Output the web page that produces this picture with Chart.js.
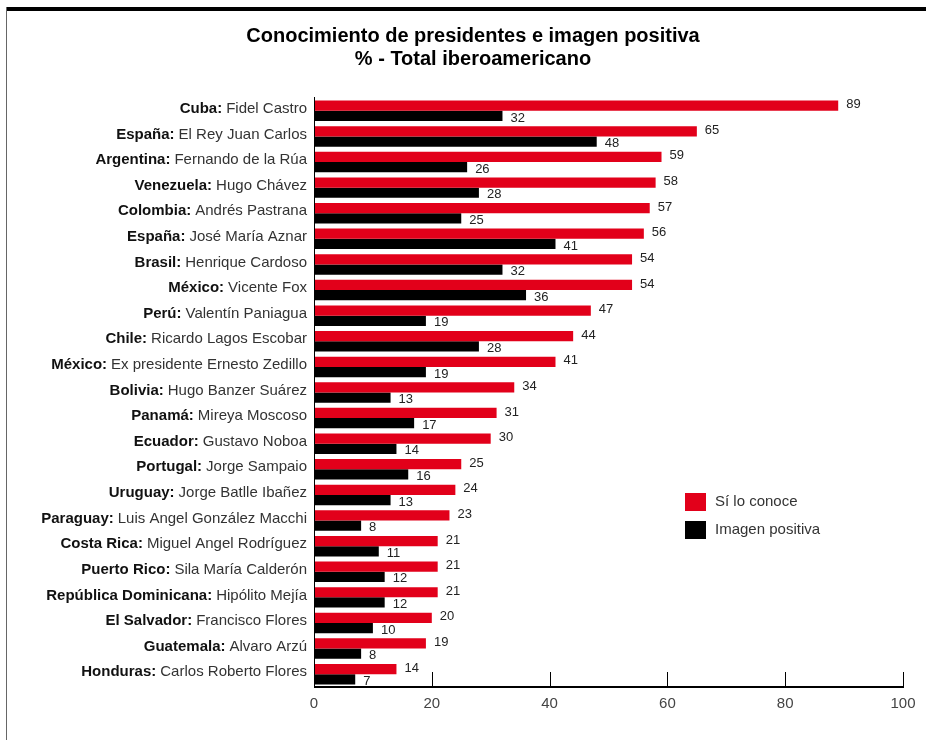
<!DOCTYPE html>
<html>
<head>
<meta charset="utf-8">
<script src="https://cdn.jsdelivr.net/npm/chart.js@4/dist/chart.umd.min.js"></script>
<style>
  html, body { margin: 0; padding: 0; background: #fff; }
  #wrap { position: relative; width: 926px; height: 740px; }
  #frameTop { position: absolute; left: 6px; top: 7px; width: 920px; height: 4px; background: #000; }
  #frameLeft { position: absolute; left: 6px; top: 7px; width: 1px; height: 733px; background: #666; }
  canvas { position: absolute; left: 0; top: 0; }
</style>
</head>
<body>
<div id="wrap">
  <canvas id="chart" width="926" height="740"></canvas>
  <div id="frameTop"></div>
  <div id="frameLeft"></div>
</div>
<script>
// países y presidentes (en el orden de la figura)
const countries = ['Cuba', 'España', 'Argentina', 'Venezuela', 'Colombia', 'España', 'Brasil', 'México',
  'Perú', 'Chile', 'México', 'Bolivia', 'Panamá', 'Ecuador', 'Portugal', 'Uruguay', 'Paraguay',
  'Costa Rica', 'Puerto Rico', 'República Dominicana', 'El Salvador', 'Guatemala', 'Honduras'];
const presidents = ['Fidel Castro', 'El Rey Juan Carlos', 'Fernando de la Rúa', 'Hugo Chávez', 'Andrés Pastrana',
  'José María Aznar', 'Henrique Cardoso', 'Vicente Fox', 'Valentín Paniagua', 'Ricardo Lagos Escobar',
  'Ex presidente Ernesto Zedillo', 'Hugo Banzer Suárez', 'Mireya Moscoso', 'Gustavo Noboa', 'Jorge Sampaio',
  'Jorge Batlle Ibañez', 'Luis Angel González Macchi', 'Miguel Angel Rodríguez', 'Sila María Calderón',
  'Hipólito Mejía', 'Francisco Flores', 'Alvaro Arzú', 'Carlos Roberto Flores'];

const conoce = [89, 65, 59, 58, 57, 56, 54, 54, 47, 44, 41, 34, 31, 30, 25, 24, 23, 21, 21, 21, 20, 19, 14];
const positiva = [32, 48, 26, 28, 25, 41, 32, 36, 19, 28, 19, 13, 17, 14, 16, 13, 8, 11, 12, 12, 10, 8, 7];

const xTicks = [0, 20, 40, 60, 80, 100];
const seriesNames = ['Sí lo conoce', 'Imagen positiva'];
const RED = '#e2001a';
const BLACK = '#000000';

const labels = countries.map((c, i) => c + ': ' + presidents[i]);

// dibuja título, etiquetas, ejes, valores y leyenda
const decor = {
  id: 'decor',
  afterDatasetsDraw(chart) {
    const ctx = chart.ctx;
    const x = chart.scales.x;
    const y = chart.scales.y;
    ctx.save();

    // título
    ctx.fillStyle = '#000';
    ctx.textAlign = 'center';
    ctx.textBaseline = 'middle';
    ctx.font = 'bold 20px "Liberation Sans", Arial, sans-serif';
    ctx.fillText('Conocimiento de presidentes e imagen positiva', 473, 36);
    ctx.fillText('% - Total iberoamericano', 473, 59);

    // etiquetas de categoría: país en negrita + nombre
    const right = x.left - 7;
    countries.forEach((c, i) => {
      const cy = y.getPixelForValue(i) - 2;
      ctx.textBaseline = 'middle';
      ctx.textAlign = 'right';
      ctx.font = '15px "Liberation Sans", Arial, sans-serif';
      ctx.fillStyle = '#333';
      const name = presidents[i];
      ctx.fillText(name, right, cy);
      const w = ctx.measureText(name).width;
      ctx.font = 'bold 15px "Liberation Sans", Arial, sans-serif';
      ctx.fillStyle = '#111';
      ctx.fillText(c + ':', right - w - 4, cy);
    });

    // valores al final de cada barra
    ctx.font = '13px "Liberation Sans", Arial, sans-serif';
    ctx.fillStyle = '#222';
    ctx.textAlign = 'left';
    chart.data.datasets.forEach((ds, di) => {
      chart.getDatasetMeta(di).data.forEach((bar, i) => {
        ctx.fillText(String(ds.data[i]), bar.x + 8, bar.y + (di === 1 ? 2 : -1));
      });
    });

    // ejes
    ctx.strokeStyle = '#000';
    ctx.lineWidth = 1;
    ctx.beginPath();
    ctx.moveTo(x.left + 0.5, y.top - 1);
    ctx.lineTo(x.left + 0.5, y.bottom);
    ctx.stroke();
    ctx.lineWidth = 2;
    ctx.beginPath();
    ctx.moveTo(x.left, y.bottom);
    ctx.lineTo(x.right + 1, y.bottom);
    ctx.stroke();
    ctx.lineWidth = 1;
    xTicks.forEach(v => {
      if (v === 0) return;
      const px = Math.round(x.getPixelForValue(v)) + 0.5;
      ctx.beginPath();
      ctx.moveTo(px, y.bottom);
      ctx.lineTo(px, y.bottom - 15);
      ctx.stroke();
    });
    ctx.font = '15px "Liberation Sans", Arial, sans-serif';
    ctx.fillStyle = '#444';
    ctx.textAlign = 'center';
    xTicks.forEach(v => {
      ctx.fillText(String(v), x.getPixelForValue(v), y.bottom + 17);
    });

    // leyenda
    const colors = [RED, BLACK];
    seriesNames.forEach((s, i) => {
      const ly = 493 + i * 28;
      ctx.fillStyle = colors[i];
      ctx.fillRect(685, ly, 21, 18);
      ctx.fillStyle = '#333';
      ctx.textAlign = 'left';
      ctx.font = '15px "Liberation Sans", Arial, sans-serif';
      ctx.fillText(s, 715, ly + 9);
    });

    ctx.restore();
  }
};

new Chart(document.getElementById('chart'), {
  type: 'bar',
  data: {
    labels: labels,
    datasets: [
      { label: seriesNames[0], data: conoce, backgroundColor: RED },
      { label: seriesNames[1], data: positiva, backgroundColor: BLACK }
    ]
  },
  options: {
    indexAxis: 'y',
    responsive: false,
    animation: false,
    layout: { padding: { left: 314, right: 23, top: 98, bottom: 53 } },
    datasets: { bar: { categoryPercentage: 0.8, barPercentage: 1 } },
    scales: {
      x: { display: false, min: 0, max: 100 },
      y: { display: false }
    },
    plugins: {
      legend: { display: false },
      title: { display: false },
      tooltip: { enabled: false }
    }
  },
  plugins: [decor]
});
</script>
</body>
</html>
